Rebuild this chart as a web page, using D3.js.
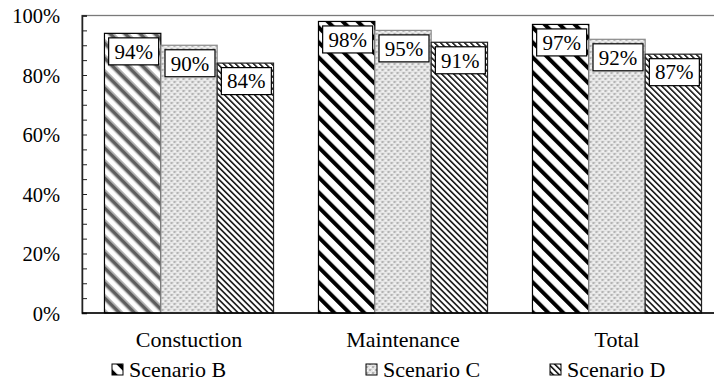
<!DOCTYPE html>
<html>
<head>
<meta charset="utf-8">
<script src="https://cdn.jsdelivr.net/npm/d3@7/dist/d3.min.js"></script>
<style>
  html, body { margin: 0; padding: 0; background: #fff; }
  svg { display: block; }
  svg text { font-family: "Liberation Serif", "Times New Roman", Tinos, "DejaVu Serif", serif; }
</style>
</head>
<body>
<svg id="chart" width="714" height="383"></svg>
<script>
// Share of each phase reached under each scenario
const categories = ["Constuction", "Maintenance", "Total"];
const seriesNames = ["Scenario B", "Scenario C", "Scenario D"];
const scenarioB = [0.94, 0.98, 0.97];
const scenarioC = [0.90, 0.95, 0.92];
const scenarioD = [0.84, 0.91, 0.87];
const yTicks = [0, 0.2, 0.4, 0.6, 0.8, 1.0];

const seriesValues = [scenarioB, scenarioC, scenarioD];

const svg = d3.select("#chart");
const W = 714, H = 383;
const plotLeft = 82, plotTop = 15.5, plotBottom = 313;
const serif = "Liberation Serif, Times New Roman, serif";

// Fill patterns for the bars
const defs = svg.append("defs");

function stripes(id, period, stripeW, color, bg) {
  const p = defs.append("pattern")
    .attr("id", id)
    .attr("patternUnits", "userSpaceOnUse")
    .attr("width", period).attr("height", period)
    .attr("patternTransform", "rotate(-45)");
  p.append("rect").attr("width", period).attr("height", period).attr("fill", bg);
  p.append("rect").attr("x", 0).attr("y", 0).attr("width", stripeW).attr("height", period).attr("fill", color);
  return p;
}
// wide black diagonals
stripes("patB", 10.6, 4.0, "#000", "#fff");
// wide grey diagonals (first group)
const pg = stripes("patBg", 10.6, 3.4, "#5e5e5e", "#fff");
pg.append("rect").attr("x", 3.4).attr("width", 1.2).attr("height", 10.6).attr("fill", "#a8a8a8");
pg.append("rect").attr("x", 9.4).attr("width", 1.2).attr("height", 10.6).attr("fill", "#a8a8a8");
// narrow diagonals
stripes("patD", 4.25, 1.6, "#1a1a1a", "#fff");
// light grey lattice
const pc = defs.append("pattern")
  .attr("id", "patC")
  .attr("patternUnits", "userSpaceOnUse")
  .attr("width", 6).attr("height", 6);
pc.append("rect").attr("width", 6).attr("height", 6).attr("fill", "#e6e6e6");
pc.append("rect").attr("x", 0).attr("y", 0).attr("width", 2).attr("height", 2).attr("fill", "#b4b4b4");
pc.append("rect").attr("x", 3).attr("y", 3).attr("width", 2).attr("height", 2).attr("fill", "#b4b4b4");
pc.append("rect").attr("x", 2).attr("y", 0).attr("width", 1).attr("height", 1).attr("fill", "#cfcfcf");
pc.append("rect").attr("x", 5).attr("y", 3).attr("width", 1).attr("height", 1).attr("fill", "#cfcfcf");
pc.append("rect").attr("x", 4).attr("y", 1).attr("width", 1).attr("height", 1).attr("fill", "#fff");
pc.append("rect").attr("x", 1).attr("y", 4).attr("width", 1).attr("height", 1).attr("fill", "#fff");

const fills = [
  (i) => i === 0 ? "url(#patBg)" : "url(#patB)",
  () => "url(#patC)",
  () => "url(#patD)"
];
const strokes = ["#000", "#8a8a8a", "#222"];

// Scales
const x = d3.scaleBand()
  .domain(categories)
  .range([plotLeft, plotLeft + 642])
  .paddingInner(0.21)
  .paddingOuter(0.105);
const xs = d3.scaleBand()
  .domain(seriesNames)
  .range([0, x.bandwidth()]);
const y = d3.scaleLinear().domain([0, 1]).range([plotBottom, plotTop]);

// Plot frame (extends past the right edge)
svg.append("rect")
  .attr("x", plotLeft).attr("y", plotTop)
  .attr("width", 642).attr("height", plotBottom - plotTop)
  .attr("fill", "none").attr("stroke", "#7a7a7a").attr("stroke-width", 1.3);

// Bars
const groups = svg.append("g").selectAll("g")
  .data(categories)
  .join("g")
  .attr("transform", d => `translate(${x(d)},0)`);

groups.each(function (cat, ci) {
  const g = d3.select(this);
  seriesNames.forEach((s, si) => {
    const v = seriesValues[si][ci];
    g.append("rect")
      .attr("x", xs(s))
      .attr("y", y(v))
      .attr("width", xs.bandwidth())
      .attr("height", y(0) - y(v))
      .attr("fill", fills[si](ci))
      .attr("stroke", strokes[si])
      .attr("stroke-width", 1.2);
  });
  // value labels in white boxes near the top of each bar
  seriesNames.forEach((s, si) => {
    const v = seriesValues[si][ci];
    const cx = xs(s) + xs.bandwidth() / 2 + 1;
    const bw = 50, bh = 27;
    const by = y(v) + 4.5;
    g.append("rect")
      .attr("x", cx - bw / 2).attr("y", by)
      .attr("width", bw).attr("height", bh)
      .attr("fill", "#fff").attr("stroke", "#000").attr("stroke-width", 1.2);
    g.append("text")
      .attr("x", cx).attr("y", by + bh / 2 + 7.3)
      .attr("text-anchor", "middle")
      .attr("font-family", serif)
      .attr("font-size", 21)
      .attr("fill", "#000")
      .text(d3.format(".0%")(v));
  });
});

// Y axis with inward ticks every 5%
const yAxis = d3.axisLeft(y)
  .tickValues(d3.range(0, 1.0001, 0.05))
  .tickSize(-5)
  .tickFormat("");
const ya = svg.append("g").attr("transform", `translate(${plotLeft},0)`).call(yAxis);
ya.select(".domain").attr("stroke", "#222").attr("stroke-width", 1.5);
ya.selectAll(".tick line").attr("stroke", "#222").attr("stroke-width", 1);

svg.append("g").selectAll("text")
  .data(yTicks)
  .join("text")
  .attr("x", plotLeft - 22)
  .attr("y", d => y(d) + 7.5)
  .attr("text-anchor", "end")
  .attr("font-family", serif)
  .attr("font-size", 20.5)
  .attr("fill", "#000")
  .text(d => d3.format(".0%")(d));

// X baseline
svg.append("line")
  .attr("x1", plotLeft).attr("x2", W)
  .attr("y1", plotBottom).attr("y2", plotBottom)
  .attr("stroke", "#000").attr("stroke-width", 1.5);

// Category labels
svg.append("g").selectAll("text")
  .data(categories)
  .join("text")
  .attr("x", d => x(d) + x.bandwidth() / 2)
  .attr("y", 347)
  .attr("text-anchor", "middle")
  .attr("font-family", serif)
  .attr("font-size", 22)
  .attr("fill", "#000")
  .text(d => d);

// Legend
const legendX = [112, 366, 550];
const legend = svg.append("g").selectAll("g")
  .data(seriesNames)
  .join("g")
  .attr("transform", (d, i) => `translate(${legendX[i]},0)`);
legend.append("rect")
  .attr("x", 0).attr("y", 364)
  .attr("width", 11).attr("height", 11)
  .attr("fill", (d, i) => i === 0 ? "url(#patB)" : fills[i](1))
  .attr("stroke", "#000").attr("stroke-width", 1);
legend.append("text")
  .attr("x", 17).attr("y", 377)
  .attr("font-family", serif)
  .attr("font-size", 22)
  .attr("fill", "#000")
  .text(d => d);
</script>
</body>
</html>
